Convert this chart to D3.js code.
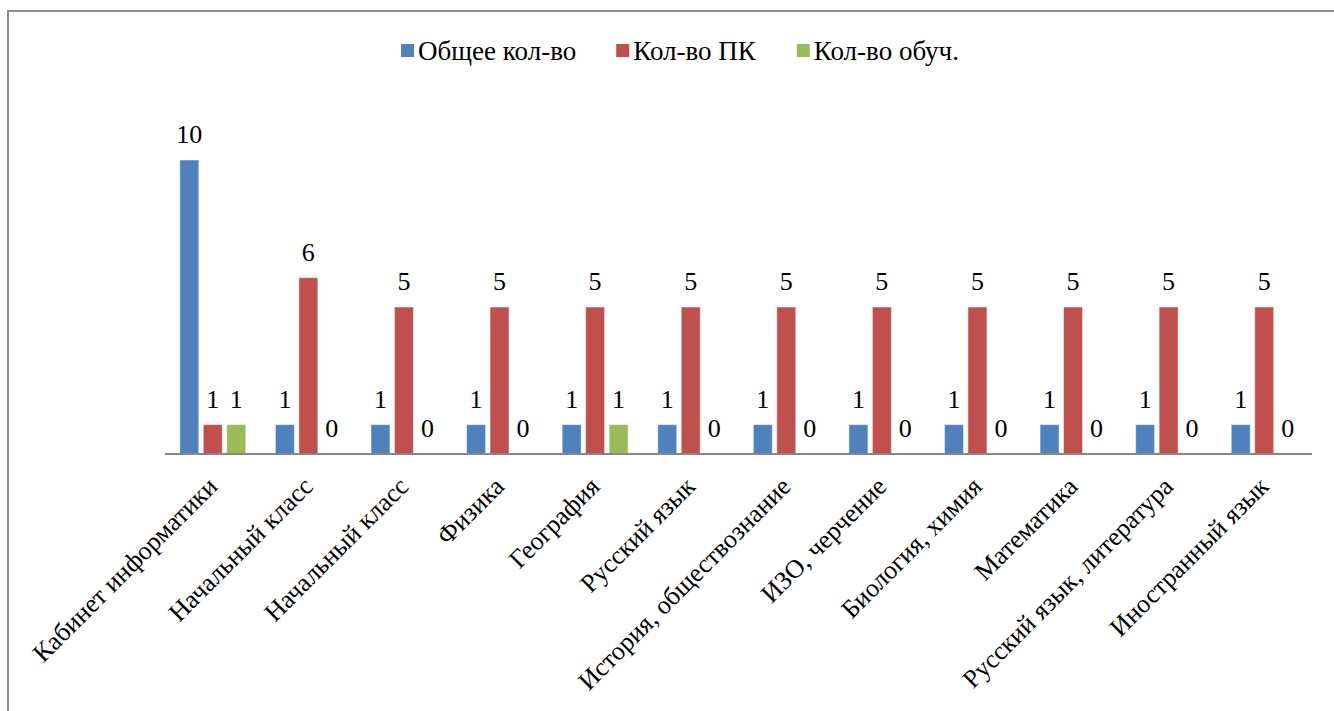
<!DOCTYPE html>
<html>
<head>
<meta charset="utf-8">
<script src="https://cdn.jsdelivr.net/npm/d3@7"></script>
</head>
<body style="margin:0; background:#fff">
<svg id="chart" width="1334" height="711"></svg>
<script>
const categories = [
  "Кабинет информатики", "Начальный класс", "Начальный класс", "Физика",
  "География", "Русский язык", "История, обществознание", "ИЗО, черчение",
  "Биология, химия", "Математика", "Русский язык, литература", "Иностранный язык"
];
const seriesNames = ["Общее кол-во", "Кол-во ПК", "Кол-во обуч."];
const totalCount = [10, 1, 1, 1, 1, 1, 1, 1, 1, 1, 1, 1];
const pcCount = [1, 6, 5, 5, 5, 5, 5, 5, 5, 5, 5, 5];
const trainedCount = [1, 0, 0, 0, 1, 0, 0, 0, 0, 0, 0, 0];
const colors = ["#4F81BD", "#C0504D", "#9BBB59"];

const series = [totalCount, pcCount, trainedCount];
const serif = '"Liberation Serif"';

const width = 1334;
const height = 711;
const svg = d3.select('#chart');

// outer frame (right/bottom edges fall outside the picture)
svg.append('rect')
  .attr('x', 8).attr('y', 11)
  .attr('width', width).attr('height', height)
  .attr('fill', 'none')
  .attr('stroke', '#8c8c8c')
  .attr('stroke-width', 2);

const x0 = d3.scaleBand()
  .domain(d3.range(categories.length))
  .range([165, 1312])
  .paddingInner(0.31)
  .paddingOuter(0.155);

const x1 = d3.scaleBand()
  .domain(d3.range(series.length))
  .range([0, x0.bandwidth()])
  .paddingInner(0.19);

const y = d3.scaleLinear()
  .domain([0, 10])
  .range([454, 160]);

const groups = svg.append('g')
  .selectAll('g')
  .data(categories.map((c, i) => i))
  .join('g')
  .attr('transform', i => `translate(${x0(i)},0)`);

const cells = groups.selectAll('g')
  .data(i => series.map((s, k) => ({ k, v: s[i] })))
  .join('g');

cells.filter(d => d.v > 0)
  .append('rect')
  .attr('x', d => x1(d.k))
  .attr('y', d => y(d.v))
  .attr('width', x1.bandwidth())
  .attr('height', d => y(0) - y(d.v))
  .attr('fill', d => colors[d.k])
  .attr('stroke', 'rgba(255,255,255,0.5)')
  .attr('stroke-width', 1);

cells.append('text')
  .attr('x', d => x1(d.k) + x1.bandwidth() / 2)
  .attr('y', d => y(d.v) - 17)
  .attr('text-anchor', 'middle')
  .style('font-family', serif)
  .style('font-size', '26px')
  .attr('fill', '#000')
  .text(d => d.v);

// category axis
const xAxis = svg.append('g')
  .attr('transform', `translate(0,${y(0)})`)
  .call(d3.axisBottom(x0).tickSize(0).tickFormat(i => categories[i]));

xAxis.select('.domain')
  .attr('d', `M${x0.range()[0]},0H${x0.range()[1]}`)
  .attr('stroke', '#868686')
  .attr('stroke-width', 2);

xAxis.selectAll('text')
  .style('font-family', serif)
  .style('font-size', '26px')
  .attr('fill', '#000')
  .attr('text-anchor', 'end')
  .attr('dy', null)
  .attr('y', 0)
  .attr('transform', 'translate(6,34) rotate(-45)');

// legend
const legend = svg.append('g');
const items = legend.selectAll('g')
  .data(seriesNames)
  .join('g');

items.append('rect')
  .attr('width', 13).attr('height', 13)
  .attr('y', -16)
  .attr('fill', (d, i) => colors[i]);

items.append('text')
  .attr('x', 17)
  .style('font-family', serif)
  .style('font-size', '27px')
  .attr('fill', '#000')
  .text(d => d);

let pos = 0;
items.each(function () {
  d3.select(this).attr('transform', `translate(${pos},0)`);
  pos += this.getBBox().width + 40;
});
const total = pos - 40;
legend.attr('transform', `translate(${680 - total / 2},60)`);
</script>
</body>
</html>
